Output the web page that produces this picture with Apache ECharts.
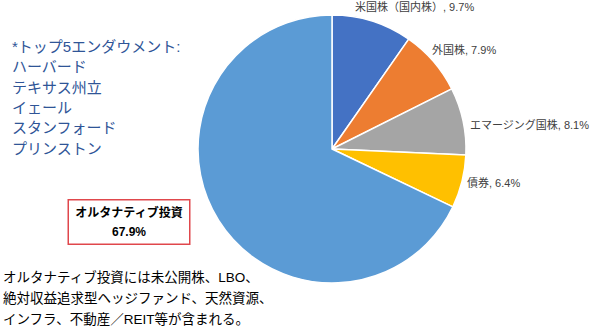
<!DOCTYPE html>
<html><head><meta charset="utf-8">
<script src="https://cdn.jsdelivr.net/npm/echarts@6/dist/echarts.min.js"></script>
<style>html,body{margin:0;padding:0;background:#fff;}#c{width:600px;height:332px;}</style>
</head><body><div id="c"></div>
<script>
const categories = ['米国株（国内株）', '外国株', 'エマージング国株', '債券', 'オルタナティブ投資'];
const values = [9.7, 7.9, 8.1, 6.4, 67.9];
const colors = ['#4472C4', '#ED7D31', '#A5A5A5', '#FFC000', '#5B9BD5'];
const noteLines = ['*トップ5エンダウメント:', 'ハーバード', 'テキサス州立', 'イェール', 'スタンフォード', 'プリンストン'];
const footLines = ['オルタナティブ投資には未公開株、LBO、', '絶対収益追求型ヘッジファンド、天然資源、', 'インフラ、不動産／REIT等が含まれる。'];

const FONT = '"Liberation Sans", Arial, "Noto Sans CJK JP", sans-serif';
const labelPos = [
  {x: 355, y: 7, align: 'left'},
  {x: 432, y: 50, align: 'left'},
  {x: 470, y: 125, align: 'left'},
  {x: 467, y: 183, align: 'left'},
  {x: 129, y: 222, align: 'center'}
];

const data = categories.map((n, i) => {
  const d = {name: n, value: values[i], itemStyle: {color: colors[i]}};
  if (i === 4) {
    d.label = {
      formatter: '{b}\n{c}%',
      fontWeight: 'bold', fontSize: 12, color: '#000', lineHeight: 19,
      backgroundColor: '#fff', borderColor: '#E0474C', borderWidth: 1.5,
      padding: [3, 6, 2, 6], width: 108, align: 'center', overflow: 'none'
    };
  }
  return d;
});

const chart = echarts.init(document.getElementById('c'), null, {renderer: 'svg'});
chart.setOption({
  animation: false,
  series: [{
    type: 'pie',
    center: [332, 149],
    radius: [0, 134],
    startAngle: 90,
    clockwise: true,
    data: data,
    itemStyle: {borderColor: '#fff', borderWidth: 1.5},
    label: {
      show: true, position: 'outside', formatter: '{b}, {c}%',
      fontFamily: FONT, fontSize: 11, color: '#404040', overflow: 'none'
    },
    labelLine: {show: false},
    labelLayout: function (p) {
      const lp = labelPos[p.dataIndex];
      return {x: lp.x, y: lp.y, align: lp.align, verticalAlign: 'middle', hideOverlap: false, moveOverlap: false};
    }
  }],
  graphic: [
    {type: 'text', left: 12, top: 36, style: {text: noteLines.join('\n'), font: '15px ' + FONT, fill: '#2F5597', lineHeight: 20.4}},
    {type: 'text', left: 3, top: 267, style: {text: footLines.join('\n'), font: '13.5px ' + FONT, fill: '#000', lineHeight: 21}}
  ]
});
</script></body></html>
